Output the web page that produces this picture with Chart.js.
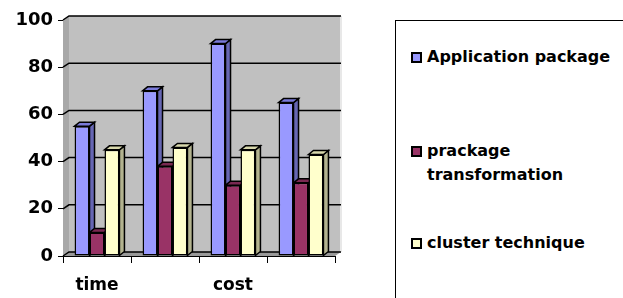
<!DOCTYPE html>
<html>
<head>
<meta charset="utf-8">
<script src="https://cdn.jsdelivr.net/npm/chart.js@4/dist/chart.umd.min.js"></script>
<style>
  body { margin: 0; background: #fff; }
  #wrap { position: relative; width: 623px; height: 298px; overflow: hidden; font-family: "DejaVu Sans", sans-serif; }
  #box { position: absolute; left: 0; top: 0; width: 360px; height: 298px; }
  #legend { position: absolute; left: 395px; top: 20px; width: 260px; height: 300px; border: 1px solid #000; box-sizing: border-box; }
  .item { position: absolute; left: 15px; font-weight: bold; font-size: 16px; line-height: 24px; color: #000; }
  .item .sw { position: absolute; left: 0; top: 7px; width: 7px; height: 7px; border: 2px solid #000; }
  .item .tx { display: block; margin-left: 16px; }
</style>
</head>
<body>
<div id="wrap">
  <div id="box"><canvas id="chart"></canvas></div>
  <div id="legend"></div>
</div>
<script>
const categories = ["time", "", "cost", ""];
const appPackage = [55, 70, 90, 65];
const prackageTransformation = [10, 38, 30, 31];
const clusterTechnique = [45, 46, 45, 43];
const yTicks = [0, 20, 40, 60, 80, 100];

const seriesNames = ["Application package", "prackage transformation", "cluster technique"];
const colors = ['#9999FF', '#993366', '#FFFFCC'];
const sideColors = ['#6666B3', '#66223F', '#B3B38F'];
const topColors = ['#7A7AD9', '#7A2952', '#D9D9AD'];

const depthX = 6, depthY = -4;   // back wall offset
const barDX = 5, barDY = -4;      // bar depth

const wall3d = {
  id: 'wall3d',
  beforeDatasetsDraw(chart) {
    const { ctx, chartArea: a, scales } = chart;
    const y = scales.y;
    ctx.save();
    // floor
    ctx.fillStyle = '#999999';
    ctx.beginPath();
    ctx.moveTo(a.left, a.bottom);
    ctx.lineTo(a.left + depthX, a.bottom + depthY);
    ctx.lineTo(a.right + depthX, a.bottom + depthY);
    ctx.lineTo(a.right, a.bottom);
    ctx.closePath();
    ctx.fill();
    // side wall
    ctx.fillStyle = '#A8A8A8';
    ctx.beginPath();
    ctx.moveTo(a.left, a.top);
    ctx.lineTo(a.left + depthX, a.top + depthY);
    ctx.lineTo(a.left + depthX, a.bottom + depthY);
    ctx.lineTo(a.left, a.bottom);
    ctx.closePath();
    ctx.fill();
    // back wall
    ctx.fillStyle = '#C0C0C0';
    ctx.fillRect(a.left + depthX, a.top + depthY, a.right - a.left, a.bottom - a.top);
    ctx.strokeStyle = '#E8E8E8';
    ctx.lineWidth = 2;
    ctx.beginPath();
    ctx.moveTo(a.right + depthX, a.top + depthY);
    ctx.lineTo(a.right + depthX, a.bottom + depthY);
    ctx.stroke();
    // grid lines
    ctx.strokeStyle = '#000';
    ctx.lineWidth = 1.5;
    yTicks.forEach(v => {
      const py = y.getPixelForValue(v);
      ctx.beginPath();
      ctx.moveTo(a.left, py);
      ctx.lineTo(a.left + depthX, py + depthY);
      ctx.lineTo(a.right + depthX, py + depthY);
      ctx.stroke();
    });
    // bar sides and tops
    ctx.lineWidth = 1.5;
    chart.data.datasets.forEach((ds, di) => {
      const meta = chart.getDatasetMeta(di);
      meta.data.forEach(bar => {
        const { x, y: top, base, width } = bar.getProps(['x', 'y', 'base', 'width'], true);
        const l = x - width / 2, r = x + width / 2;
        ctx.fillStyle = sideColors[di];
        ctx.beginPath();
        ctx.moveTo(r, top);
        ctx.lineTo(r + barDX, top + barDY);
        ctx.lineTo(r + barDX, base + barDY);
        ctx.lineTo(r, base);
        ctx.closePath();
        ctx.fill();
        ctx.stroke();
        ctx.fillStyle = topColors[di];
        ctx.beginPath();
        ctx.moveTo(l, top);
        ctx.lineTo(l + barDX, top + barDY);
        ctx.lineTo(r + barDX, top + barDY);
        ctx.lineTo(r, top);
        ctx.closePath();
        ctx.fill();
        ctx.stroke();
      });
    });
    ctx.restore();
  }
};

const ctx = document.getElementById('chart');
new Chart(ctx, {
  type: 'bar',
  data: {
    labels: categories,
    datasets: [appPackage, prackageTransformation, clusterTechnique].map((d, i) => ({
      label: seriesNames[i],
      data: d,
      backgroundColor: colors[i],
      borderColor: '#000',
      borderWidth: 1.5,
      borderSkipped: false,
      categoryPercentage: 0.66,
      barPercentage: 1.0
    }))
  },
  plugins: [wall3d],
  options: {
    responsive: true,
    maintainAspectRatio: false,
    animation: false,
    layout: { padding: { top: 20, right: 25, left: 0, bottom: 0 } },
    plugins: { legend: { display: false }, tooltip: { enabled: false } },
    scales: {
      x: {
        afterFit: s => { s.height = 42; },
        grid: { offset: true, drawOnChartArea: false, drawTicks: true, tickLength: 7, color: '#000' },
        border: { color: '#000', width: 1 },
        ticks: { color: '#000', padding: 12, maxRotation: 0, autoSkip: false,
          font: { family: 'DejaVu Sans', weight: 'bold', size: 17 } }
      },
      y: {
        min: 0, max: 100,
        afterFit: s => { s.width = 63; },
        grid: { drawOnChartArea: false, drawTicks: true, tickLength: 5, color: '#000' },
        border: { color: '#000', width: 1 },
        ticks: { stepSize: 20, color: '#000', padding: 5,
          font: { family: 'DejaVu Sans', weight: 'bold', size: 18 } }
      }
    }
  }
});

// legend
const legendTops = [44, 138, 230];
const legendLines = [["Application package"], ["prackage", "transformation"], ["cluster technique"]];
const lg = document.getElementById('legend');
legendLines.forEach((lines, i) => {
  const it = document.createElement('div');
  it.className = 'item';
  it.style.top = (legendTops[i] - 20) + 'px';
  it.innerHTML = '<span class="sw" style="background:' + colors[i] + '"></span>' +
    '<span class="tx">' + lines.join('<br>') + '</span>';
  lg.appendChild(it);
});
</script>
</body>
</html>
